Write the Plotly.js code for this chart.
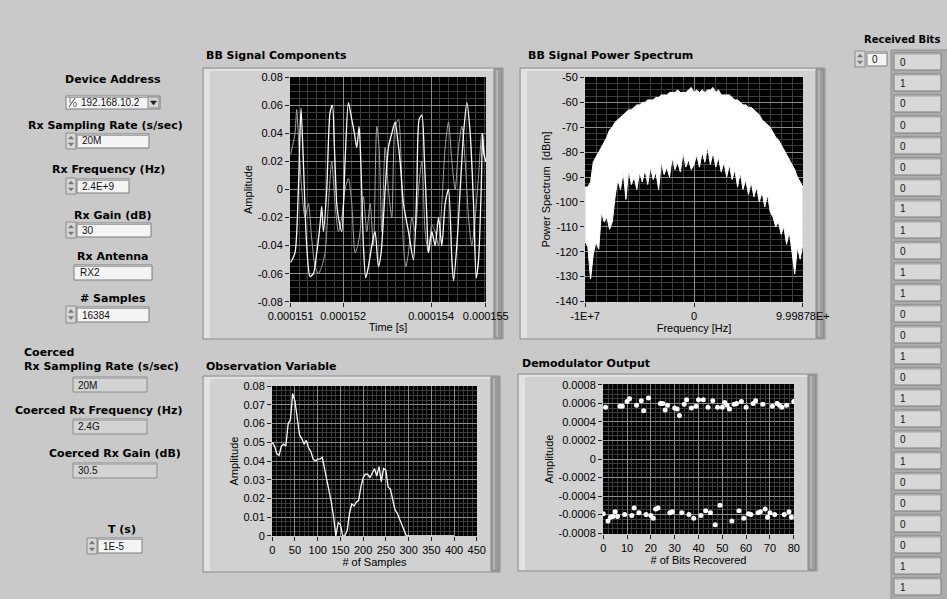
<!DOCTYPE html>
<html><head><meta charset="utf-8">
<script src="https://cdn.plot.ly/plotly-3.0.1.min.js"></script>
<style>html,body{margin:0;padding:0;background:#c9c9c9;}#chart{width:947px;height:599px;}</style>
</head><body><div id="chart"></div>
<script>
// ---------- DATA ----------
// BB Signal Components (two traces), time in seconds
const bbTimeA = [150.811e-6,150.909e-6,150.985e-6,151.045e-6,151.098e-6,151.174e-6,151.25e-6,151.326e-6,151.402e-6,151.477e-6,151.515e-6,151.553e-6,151.629e-6,151.705e-6,151.758e-6,151.803e-6,151.856e-6,151.894e-6,151.970e-6,152.045e-6,152.121e-6,152.197e-6,152.258e-6,152.311e-6,152.364e-6,152.402e-6,152.462e-6,152.515e-6,152.576e-6,152.652e-6,152.727e-6,152.803e-6,152.864e-6,152.955e-6,153.030e-6,153.106e-6,153.182e-6,153.242e-6,153.295e-6,153.371e-6,153.485e-6,153.598e-6,153.674e-6,153.727e-6,153.788e-6,153.848e-6,153.902e-6,153.939e-6,154.015e-6,154.091e-6,154.167e-6,154.242e-6,154.318e-6,154.394e-6,154.470e-6,154.508e-6,154.583e-6,154.659e-6,154.735e-6,154.811e-6,154.886e-6,154.962e-6,155.023e-6,155.076e-6,155.136e-6,155.167e-6,155.197e-6,155.242e-6];
const bbAmpA = [-0.052,-0.045,0.0,0.058,0.02,-0.04,-0.062,-0.060,-0.045,-0.025,-0.012,-0.03,0.0,0.055,0.06,0.03,-0.01,-0.02,-0.03,0.02,0.062,0.05,0.04,0.03,0.045,0.02,-0.04,-0.063,-0.055,-0.04,-0.03,-0.055,-0.045,0.0,0.03,0.04,0.048,0.035,0.02,-0.01,-0.03,-0.05,0.0,0.05,0.053,0.02,-0.02,-0.045,-0.03,-0.04,-0.02,-0.04,-0.01,0.0,-0.05,-0.065,-0.04,0.0,0.04,0.062,0.04,-0.01,-0.063,-0.05,0.0,0.04,0.025,0.02];
const bbTimeB = [150.811e-6,150.909e-6,150.947e-6,151.000e-6,151.061e-6,151.136e-6,151.212e-6,151.288e-6,151.364e-6,151.439e-6,151.515e-6,151.591e-6,151.667e-6,151.742e-6,151.818e-6,151.894e-6,151.970e-6,152.045e-6,152.121e-6,152.197e-6,152.273e-6,152.333e-6,152.386e-6,152.462e-6,152.538e-6,152.614e-6,152.689e-6,152.765e-6,152.818e-6,152.879e-6,152.955e-6,153.030e-6,153.106e-6,153.182e-6,153.258e-6,153.318e-6,153.371e-6,153.424e-6,153.485e-6,153.561e-6,153.636e-6,153.712e-6,153.788e-6,153.864e-6,153.939e-6,154.015e-6,154.091e-6,154.167e-6,154.242e-6,154.318e-6,154.394e-6,154.470e-6,154.545e-6,154.621e-6,154.697e-6,154.773e-6,154.848e-6,154.924e-6,155.000e-6,155.076e-6,155.152e-6,155.227e-6];
const bbAmpB = [0.025,0.04,0.057,0.03,0.0,-0.02,-0.01,-0.035,-0.055,-0.06,-0.055,-0.045,-0.01,0.02,-0.01,-0.03,-0.02,0.0,0.008,-0.01,-0.045,-0.04,-0.03,-0.005,-0.03,-0.01,-0.04,0.045,0.03,-0.03,0.03,0.0,-0.02,0.045,0.05,0.02,-0.04,-0.055,-0.045,-0.02,-0.03,0.0,0.02,-0.03,-0.045,-0.025,-0.03,-0.04,-0.01,0.03,0.048,0.02,0.0,0.03,0.045,0.02,-0.02,-0.04,-0.02,0.01,0.04,0.02];
const bbTickVals = [150.81e-6,152e-6,154e-6,155.24e-6];
const bbTickText = ['0.000151','0.000152','0.000154','0.000155'];
const ampTickVals = [-0.08,-0.06,-0.04,-0.02,0,0.02,0.04,0.06,0.08];
const ampTickText = ['-0.08','-0.06','-0.04','-0.02','0','0.02','0.04','0.06','0.08'];

// BB Signal Power Spectrum: per-bin upper and lower envelope (dBm)
const psFreq = [-10e6,-9.75e6,-9.5e6,-9.25e6,-9e6,-8.75e6,-8.5e6,-8.25e6,-8e6,-7.75e6,-7.5e6,-7.25e6,-7e6,-6.75e6,-6.5e6,-6.25e6,-6e6,-5.75e6,-5.5e6,-5.25e6,-5e6,-4.75e6,-4.5e6,-4.25e6,-4e6,-3.75e6,-3.5e6,-3.25e6,-3e6,-2.75e6,-2.5e6,-2.25e6,-2e6,-1.75e6,-1.5e6,-1.25e6,-1e6,-0.75e6,-0.5e6,-0.25e6,0,0.25e6,0.5e6,0.75e6,1e6,1.25e6,1.5e6,1.75e6,2e6,2.25e6,2.5e6,2.75e6,3e6,3.25e6,3.5e6,3.75e6,4e6,4.25e6,4.5e6,4.75e6,5e6,5.25e6,5.5e6,5.75e6,6e6,6.25e6,6.5e6,6.75e6,7e6,7.25e6,7.5e6,7.75e6,8e6,8.25e6,8.5e6,8.75e6,9e6,9.25e6,9.5e6,9.75e6,9.99878e6];
const psUpper = [-94,-94,-92,-84,-82,-80,-78,-76,-74,-71,-70,-68,-67,-66,-65,-64,-63,-63,-62,-61,-61,-60,-60,-59,-59,-59,-58,-58,-57,-57,-57,-56,-56,-56,-55,-56,-56,-56,-55,-54,-56,-55,-56,-55,-56,-55,-55,-54,-56,-55,-57,-57,-57,-57,-58,-59,-59,-60,-61,-61,-62,-62,-63,-64,-65,-67,-68,-69,-70,-72,-74,-75,-77,-79,-81,-83,-85,-87,-90,-92,-94];
const psLower = [-116,-118,-131,-121,-116,-119,-104,-108,-106,-111,-108,-98,-91,-95,-88,-99,-87,-93,-90,-95,-88,-92,-87,-93,-86,-91,-88,-95,-84,-89,-86,-90,-82,-87,-84,-88,-80,-86,-83,-87,-85,-81,-86,-80,-84,-78,-85,-80,-86,-82,-88,-84,-90,-85,-91,-87,-94,-88,-95,-91,-97,-92,-98,-94,-100,-96,-102,-97,-104,-106,-110,-108,-113,-110,-117,-112,-120,-129,-118,-123,-117];
const psXTickVals = [-10e6,0,9.99878e6];
const psXTickText = ['-1E+7','0','9.99878E+'];
const psYTickVals = [-140,-130,-120,-110,-100,-90,-80,-70,-60,-50];
const psYTickText = ['-140','-130','-120','-110','-100','-90','-80','-70','-60','-50'];

// Observation Variable
const obsSamples = [0,5,10,15,20,25,30,35,40,45,50,55,60,65,70,75,80,85,90,95,100,105,110,115,120,125,130,135,140,145,150,155,160,165,170,175,180,185,190,195,200,205,210,215,220,225,230,235,240,245,250,255,260,265,270,275,280,285,290,295,300,400];
const obsAmp = [0.050,0.048,0.044,0.043,0.048,0.049,0.048,0.060,0.062,0.076,0.072,0.063,0.054,0.052,0.049,0.051,0.047,0.045,0.041,0.040,0.041,0.041,0.042,0.036,0.030,0.025,0.018,0.010,0.000,0.007,0.006,0.000,0.000,0.003,0.012,0.017,0.016,0.018,0.019,0.026,0.031,0.033,0.033,0.031,0.034,0.036,0.032,0.037,0.029,0.036,0.035,0.026,0.025,0.019,0.014,0.012,0.009,0.006,0.002,0.000,0.000,0.000];
const obsXTickVals = [0,50,100,150,200,250,300,350,400,450];
const obsXTickText = ['0','50','100','150','200','250','300','350','400','450'];
const obsYTickVals = [0,0.01,0.02,0.03,0.04,0.05,0.06,0.07,0.08];
const obsYTickText = ['0','0.01','0.02','0.03','0.04','0.05','0.06','0.07','0.08'];

// Demodulator Output
const demodIndex = [0,1,2,3,4,5,6,7,8,9,10,11,12,13,14,15,16,17,18,19,20,21,22,23,24,25,26,27,28,29,30,31,32,33,34,35,36,37,38,39,40,41,42,43,44,45,46,47,48,49,50,51,52,53,54,55,56,57,58,59,60,61,62,63,64,65,66,67,68,69,70,71,72,73,74,75,76,77,78,79,80];
const demodAmp = [-0.00059,0.00056,-0.00067,-0.00063,-0.00062,-0.00057,-0.00062,0.00057,0.00057,-0.00060,0.00062,0.00065,-0.00061,-0.00053,0.00058,-0.00058,0.00063,0.00052,-0.00060,0.00066,-0.00061,-0.00064,-0.00054,-0.00053,0.00060,0.00060,0.00053,0.00058,-0.00058,-0.00057,0.00055,0.00054,0.00047,-0.00058,0.00059,0.00064,-0.00060,0.00055,-0.00064,0.00057,0.00064,-0.00061,0.00064,-0.00056,0.00056,-0.00058,0.00063,-0.00071,0.00056,-0.00050,0.00056,0.00061,0.00058,0.00054,-0.00067,0.00059,0.00060,-0.00056,0.00062,-0.00064,0.00056,-0.00059,-0.00060,0.00060,0.00063,-0.00058,-0.00057,0.00059,-0.00054,-0.00063,-0.00058,0.00057,-0.00060,0.00060,0.00058,0.00056,-0.00060,0.00058,-0.00057,-0.00063,0.00062];
const demodXTickVals = [0,10,20,30,40,50,60,70,80];
const demodXTickText = ['0','10','20','30','40','50','60','70','80'];
const demodYTickVals = [-0.0008,-0.0006,-0.0004,-0.0002,0,0.0002,0.0004,0.0006,0.0008];
const demodYTickText = ['-0.0008','-0.0006','-0.0004','-0.0002','0','0.0002','0.0004','0.0006','0.0008'];

// Received bits (array indicator)
const receivedBits = [0,1,0,0,0,0,0,1,1,0,1,1,0,0,1,0,1,1,0,1,0,0,0,0,1,1];

// Front-panel control values
const deviceAddress = '192.168.10.2';
const rxSamplingRate = '20M';
const rxFrequency = '2.4E+9';
const rxGain = '30';
const rxAntenna = 'RX2';
const numSamples = '16384';
const coercedRate = '20M';
const coercedFreq = '2.4G';
const coercedGain = '30.5';
const periodT = '1E-5';
const bitIndex = '0';

// ---------- LAYOUT HELPERS ----------
const W = 947, H = 599;
const X = p => p / W, Y = p => 1 - p / H;
const shapes = [], annotations = [];
function rect(x0, y0, x1, y1, fill, line, lw) {
  shapes.push({type:'rect', xref:'paper', yref:'paper', x0:X(x0), x1:X(x1), y0:Y(y1), y1:Y(y0),
    fillcolor:fill, line:{color:line || fill, width:(lw === undefined ? 1 : lw)}, layer:'below'});
}
function poly(pts, fill) {
  const d = pts.map((p, i) => (i ? 'L' : 'M') + X(p[0]) + ',' + Y(p[1])).join(' ') + ' Z';
  shapes.push({type:'path', xref:'paper', yref:'paper', path:d, fillcolor:fill, line:{color:fill, width:0.5}, layer:'below'});
}
function seg(x0, y0, x1, y1, color, w) {
  shapes.push({type:'line', xref:'paper', yref:'paper', x0:X(x0), y0:Y(y0), x1:X(x1), y1:Y(y1), line:{color:color, width:w || 1}, layer:'below'});
}
const BOLD = {family:'DejaVu Sans, Verdana, sans-serif', size:11, color:'#000'};
const SMALL = {family:'Liberation Sans, Arial, sans-serif', size:10, color:'#111'};
const TICK = {family:'Liberation Sans, Arial, sans-serif', size:11, color:'#000'};
function label(text, x, y, anchor, font) {
  annotations.push({text:text, xref:'paper', yref:'paper', x:X(x), y:Y(y), xanchor:anchor || 'center', yanchor:'middle',
    showarrow:false, font:font || BOLD});
}
function bold(text, x, y, anchor, size) {
  label('<b>' + text + '</b>', x, y, anchor, size ? Object.assign({}, BOLD, {size:size}) : BOLD);
}
function inputBox(x0, y0, x1, y1) {
  rect(x0, y0, x1, y1, '#f4f4f4', '#7c7c7c', 1);
  rect(x0 + 1, y0 + 1, x1 - 1, y0 + 2, '#a8a8a8', '#a8a8a8', 0);
}
function indicatorBox(x0, y0, x1, y1) {
  rect(x0, y0, x1, y1, '#d3d3d3', '#8c8c8c', 1);
  rect(x0 + 1, y0 + 1, x1 - 1, y0 + 2, '#b0b0b0', '#b0b0b0', 0);
}
function spinner(x0, y0, y1) {
  rect(x0, y0, x0 + 10, y1, '#d6d6d6', '#8a8a8a', 1);
  const cx = x0 + 5, m = (y0 + y1) / 2;
  poly([[cx - 2.5, m - 2], [cx + 2.5, m - 2], [cx, m - 5]], '#777');
  poly([[cx - 2.5, m + 2], [cx + 2.5, m + 2], [cx, m + 5]], '#777');
}
function frame(x0, y0, x1, y1) {
  rect(x0, y0, x1, y1, '#d1d1d1', '#8e8e8e', 1);
  rect(x0 + 1, y0 + 1, x0 + 7, y1 - 1, '#e2e2e2', '#e2e2e2', 0);
  rect(x0 + 1, y0 + 1, x1 - 8, y0 + 3, '#e2e2e2', '#e2e2e2', 0);
  rect(x1 - 9, y0 + 1, x1 - 1, y1 - 1, '#9c9c9c', '#858585', 1);
  rect(x1 - 7, y0 + 2, x1 - 5, y1 - 2, '#b4b4b4', '#b4b4b4', 0);
}

// ---------- FRAMES OF THE GRAPHS ----------
frame(203, 68, 503, 339);
frame(520, 68, 825, 339);
frame(203, 376, 500, 572);
frame(518, 374, 817, 571);
['x', 'x2', 'x3', 'x4'].forEach((xa, i) => {
  const ya = ['y', 'y2', 'y3', 'y4'][i];
  shapes.push({type:'rect', xref:xa + ' domain', yref:ya + ' domain', x0:0, x1:1, y0:0, y1:1,
    fillcolor:'#000', line:{width:0}, layer:'below'});
});

// ---------- LEFT CONTROLS ----------
bold('Device Address', 113, 79);
inputBox(66, 96, 160, 109);
rect(148, 97, 159, 108, '#d4d4d4', '#8a8a8a', 1);
poly([[150.5, 101], [156.5, 101], [153.5, 105]], '#222');
// I/O name icon
seg(69, 107, 75, 98, '#444', 1);
label('I', 69.5, 100, 'center', {family:'Liberation Sans, Arial', size:7, color:'#333'});
label('0', 74.5, 105, 'center', {family:'Liberation Sans, Arial', size:7, color:'#333'});
label(deviceAddress, 79, 102.5, 'left', SMALL);

bold('Rx Sampling Rate (s/sec)', 105, 125);
spinner(66, 133, 149); inputBox(77, 134, 149, 148);
label(rxSamplingRate, 80, 141, 'left', SMALL);

bold('Rx Frequency (Hz)', 108, 170);
spinner(66, 178, 194); inputBox(77, 179, 129, 193);
label(rxFrequency, 80, 186, 'left', SMALL);

bold('Rx Gain (dB)', 113, 215);
spinner(66, 222, 238); inputBox(77, 223, 151, 237);
label(rxGain, 80, 230, 'left', SMALL);

bold('Rx Antenna', 113, 256);
inputBox(74, 265, 152, 280);
label(rxAntenna, 78, 272.5, 'left', SMALL);

bold('# Samples', 113, 298);
spinner(66, 306, 323); inputBox(77, 307, 149, 322);
label(numSamples, 80, 315, 'left', SMALL);

bold('Coerced', 22, 352, 'left');
bold('Rx Sampling Rate (s/sec)', 22, 366, 'left');
indicatorBox(73, 377, 147, 392);
label(coercedRate, 76, 385, 'left', SMALL);

bold('Coerced Rx Frequency (Hz)', 13, 410, 'left');
indicatorBox(73, 419, 147, 434);
label(coercedFreq, 76, 426.5, 'left', SMALL);

bold('Coerced Rx Gain (dB)', 47, 453, 'left');
indicatorBox(73, 463, 157, 478);
label(coercedGain, 76, 470.5, 'left', SMALL);

bold('T (s)', 122, 529);
spinner(87, 538, 554); inputBox(98, 538, 142, 553);
label(periodT, 101, 546, 'left', SMALL);

// ---------- RECEIVED BITS ----------
bold('Received Bits', 862, 40, 'left', 10);
spinner(855, 51, 67); inputBox(867, 52, 887, 66);
label(bitIndex, 870, 59, 'left', SMALL);
rect(891, 50, 950, 602, '#ababab', '#8a8a8a', 1);
receivedBits.forEach((b, i) => {
  const y0 = 53 + i * 21;
  rect(894, y0, 941, y0 + 17, '#d8d8d8', '#7e7e7e', 1);
  rect(895, y0 + 1, 940, y0 + 2, '#bdbdbd', '#bdbdbd', 0);
  label(String(b), 898, y0 + 9, 'left', SMALL);
});

// ---------- GRAPH TITLES ----------
bold('BB Signal Components', 204, 56, 'left');
bold('BB Signal Power Spectrum', 526, 56, 'left');
bold('Observation Variable', 204, 366, 'left');
bold('Demodulator Output', 520, 363, 'left');

// ---------- AXES ----------
function axis(dom, range, tv, tt, minorD, title, standoff, extra) {
  return Object.assign({
    domain:dom, range:range, tickmode:'array', tickvals:tv, ticktext:tt,
    ticks:'outside', ticklen:4, tickwidth:1, tickcolor:'#222', tickfont:TICK,
    showline:false, zeroline:false, showgrid:true, gridcolor:'#8c8c8c', gridwidth:1,
    minor:{tick0:0, dtick:minorD, showgrid:true, gridcolor:'#3c3c3c', gridwidth:1, ticks:''},
    title:{text:title, font:{family:'Liberation Sans, Arial, sans-serif', size:11, color:'#000'}, standoff:standoff},
    fixedrange:true, automargin:false
  }, extra || {});
}
const dx = (a, b) => [X(a), X(b)], dy = (top, bot) => [Y(bot), Y(top)];

const layout = {
  width:W, height:H, margin:{l:0, r:0, t:0, b:0, pad:0},
  paper_bgcolor:'#c9c9c9', plot_bgcolor:'#000', showlegend:false,
  xaxis: axis(dx(290, 486), [150.795e-6, 155.245e-6], bbTickVals, bbTickText, 0.2e-6, 'Time [s]', 2, {anchor:'y'}),
  yaxis: axis(dy(77, 302), [-0.0802, 0.0802], ampTickVals, ampTickText, 0.005, 'Amplitude', 2, {anchor:'x'}),
  xaxis2: axis(dx(585, 803), [-10.01e6, 10.01e6], psXTickVals, psXTickText, 1e6, 'Frequency [Hz]', 2, {anchor:'y2'}),
  yaxis2: axis(dy(77, 302), [-140.2, -49.8], psYTickVals, psYTickText, 2.5, 'Power Spectrum  [dBm]', 2, {anchor:'x2'}),
  xaxis3: axis(dx(272, 477), [-0.5, 450.5], obsXTickVals, obsXTickText, 10, '# of Samples', 2, {anchor:'y3'}),
  yaxis3: axis(dy(386, 536), [-0.0001, 0.0801], obsYTickVals, obsYTickText, 0.0025, 'Amplitude', 2, {anchor:'x3'}),
  xaxis4: axis(dx(603, 794), [-0.1, 80.1], demodXTickVals, demodXTickText, 2, '# of Bits Recovered', 2, {anchor:'y4'}),
  yaxis4: axis(dy(384, 534), [-0.00081, 0.00081], demodYTickVals, demodYTickText, 0.00005, 'Amplitude', 2, {anchor:'x4'}),
  shapes:shapes, annotations:annotations
};

const traces = [
  {x:bbTimeB, y:bbAmpB, xaxis:'x', yaxis:'y', mode:'lines', line:{color:'#a6a6a6', width:1, shape:'spline', smoothing:0.7}},
  {x:bbTimeA, y:bbAmpA, xaxis:'x', yaxis:'y', mode:'lines', line:{color:'#ffffff', width:1.3, shape:'spline', smoothing:0.7}},
  {x:psFreq, y:psLower, xaxis:'x2', yaxis:'y2', mode:'lines', line:{color:'#ffffff', width:1}},
  {x:psFreq, y:psUpper, xaxis:'x2', yaxis:'y2', mode:'lines', fill:'tonexty', fillcolor:'#ffffff', line:{color:'#ffffff', width:1}},
  {x:obsSamples, y:obsAmp, xaxis:'x3', yaxis:'y3', mode:'lines', line:{color:'#ffffff', width:1.3}},
  {x:demodIndex, y:demodAmp, xaxis:'x4', yaxis:'y4', mode:'markers', marker:{color:'#ffffff', size:5, symbol:'circle'}}
];

Plotly.newPlot('chart', traces, layout, {staticPlot:true, displayModeBar:false});
</script></body></html>
